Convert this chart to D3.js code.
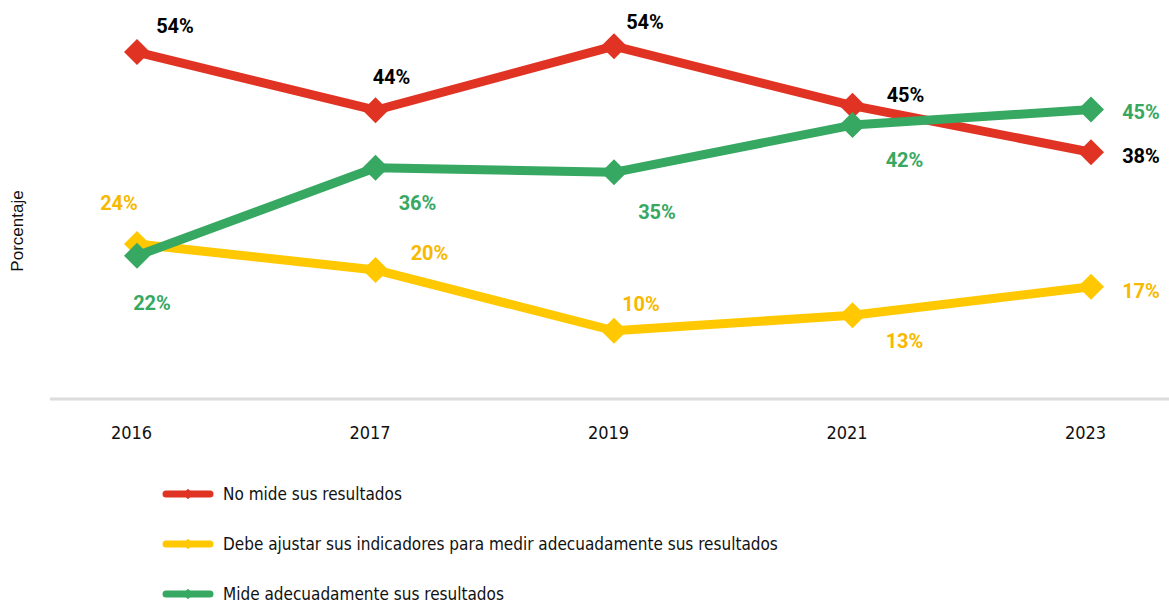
<!DOCTYPE html>
<html>
<head>
<meta charset="utf-8">
<script src="https://cdn.jsdelivr.net/npm/d3@7"></script>
<style>
  body { margin: 0; background: #fff; }
  svg { display: block; }
  .tick text { font-family: "DejaVu Sans Condensed", "Liberation Sans", sans-serif; }
</style>
</head>
<body>
<svg></svg>
<script>
const years = ["2016", "2017", "2019", "2021", "2023"];
const noMide = [53.5, 44.5, 54.4, 45.2, 38.0];
const debeAjustar = [23.8, 19.8, 10.4, 12.8, 17.2];
const mide = [22.0, 35.6, 34.9, 42.2, 44.6];
const labelsNoMide = ["54%", "44%", "54%", "45%", "38%"];
const labelsDebe = ["24%", "20%", "10%", "13%", "17%"];
const labelsMide = ["22%", "36%", "35%", "42%", "45%"];
const seriesNames = [
  "No mide sus resultados",
  "Debe ajustar sus indicadores para medir adecuadamente sus resultados",
  "Mide adecuadamente sus resultados"
];

const w = 1169, h = 604;
const svg = d3.select("svg").attr("width", w).attr("height", h);

const series = [
  {name: seriesNames[0], values: noMide, labels: labelsNoMide, col: "#e03323", labCol: "#000",
   off: [[38,-26],[16,-33],[31,-24],[53,-11],[50,4]]},
  {name: seriesNames[1], values: debeAjustar, labels: labelsDebe, col: "#ffc800", labCol: "#f7b900",
   off: [[-18,-41],[54,-17],[27,-27],[52,26],[50,4]]},
  {name: seriesNames[2], values: mide, labels: labelsMide, col: "#37a862", labCol: "#37a862",
   off: [[15,47],[42,35],[43,40],[52,35],[50,2]]}
];

const xScale = d3.scalePoint().domain(years).range([137, 1091]);
const yScale = d3.scaleLinear().domain([0, 60]).range([398, 10]);

// baseline
svg.append("line").attr("x1", 50).attr("x2", w).attr("y1", 399).attr("y2", 399)
  .attr("stroke", "#dcdcdc").attr("stroke-width", 3);

const xAxis = d3.axisBottom(xScale).tickSize(0).tickPadding(0);
const gx = svg.append("g").attr("transform", "translate(-6,433)").call(xAxis);
gx.select(".domain").remove();
gx.selectAll("text").attr("font-size", 18).attr("fill", "#111").attr("dy", "0.35em");

svg.append("text").attr("transform", "translate(23,231) rotate(-90)")
  .attr("text-anchor", "middle").attr("font-family", "'Liberation Sans', Arial, sans-serif")
  .attr("font-size", 17).attr("fill", "#111").text("Porcentaje");

const line = d3.line().x((d, i) => xScale(years[i])).y(d => yScale(d));
const diamond = d3.symbol().type(d3.symbolDiamond2).size(430);

// yellow first, then red, green on top
[series[1], series[0], series[2]].forEach(s => {
  const g = svg.append("g");
  g.append("path").datum(s.values).attr("d", line)
    .attr("fill", "none").attr("stroke", s.col).attr("stroke-width", 9).attr("stroke-linejoin", "round");
  g.selectAll("path.pt").data(s.values).enter().append("path").attr("class", "pt")
    .attr("d", diamond)
    .attr("transform", (d, i) => `translate(${xScale(years[i])},${yScale(d)})`)
    .attr("fill", s.col);
});

series.forEach(s => {
  svg.append("g").selectAll("text").data(s.values).enter().append("text")
    .attr("x", (d, i) => xScale(years[i]) + s.off[i][0])
    .attr("y", (d, i) => yScale(d) + s.off[i][1])
    .attr("dy", "0.35em")
    .attr("text-anchor", "middle")
    .attr("font-family", "Roboto, 'Noto Sans', sans-serif")
    .attr("font-weight", "bold")
    .attr("font-size", 20)
    .attr("fill", s.labCol)
    .text((d, i) => s.labels[i]);
});

// legend
const lg = svg.append("g").attr("transform", "translate(163,494)");
series.forEach((s, i) => {
  const row = lg.append("g").attr("transform", `translate(0,${i * 50})`);
  row.append("line").attr("x1", 3).attr("x2", 47).attr("stroke", s.col)
    .attr("stroke-width", 7).attr("stroke-linecap", "round");
  row.append("path").attr("d", d3.symbol().type(d3.symbolDiamond2).size(70)).attr("transform", "translate(25,0)").attr("fill", s.col);
  row.append("text").attr("x", 60).attr("dy", "0.35em")
    .attr("font-family", "'DejaVu Sans Condensed', 'Liberation Sans', sans-serif")
    .attr("font-size", 17).attr("fill", "#111").text(s.name);
});
</script>
</body>
</html>
